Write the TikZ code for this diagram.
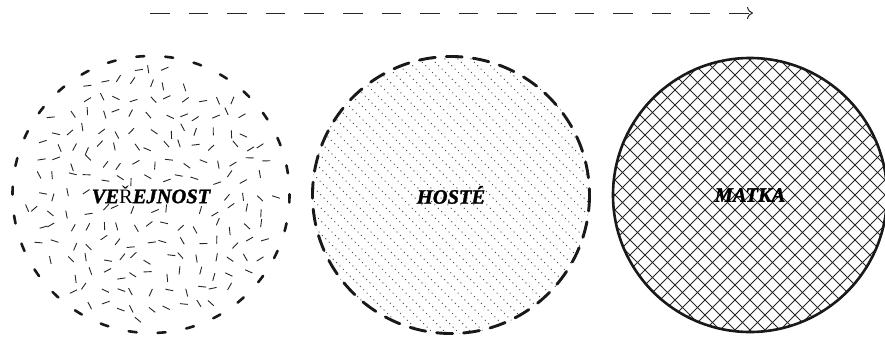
\documentclass[tikz,border=0pt]{standalone}
\usepackage{fontspec}
\setmainfont{Liberation Serif}
\newfontfamily\lblfont{Liberation Serif}[BoldItalicFeatures={FakeBold=1.5}]
\usetikzlibrary{arrows.meta}
\begin{document}
\begin{tikzpicture}[x=1pt,y=-1pt,
  ring/.style={circle,minimum size=278pt,inner sep=0pt,outer sep=0pt},
  lbl/.style={font=\lblfont\fontsize{20.5}{22}\selectfont\bfseries\itshape,text=black,inner sep=1pt},
  speck/.style={line width=0.9pt,black!85},
  hatch/.style={line width=1pt,dash pattern=on 1pt off 3.8pt,black!70},
  cross/.style={line width=0.9pt,black!85},
  flow/.style={line width=1pt,black!85,dash pattern=on 19.5pt off 19.1pt,-{To[length=6pt,width=12pt,line width=1pt]}}]
\useasboundingbox (0,0) rectangle (885,343);
% circles
\node[ring] (pub) at (151,194.5) {};
\node[ring] (hos) at (451,195) {};
\node[ring,minimum size=276pt] (mat) at (750,195) {};
% fills
\begin{scope}[shift={(pub.center)}]
  \pgfmathsetseed{7}
  \foreach \i in {-8,...,8}{
    \foreach \j in {-8,...,8}{
      \pgfmathsetmacro\px{\i*16+rand*5}
      \pgfmathsetmacro\py{\j*16+rand*5}
      \pgfmathsetmacro\ang{rnd*180}
      \pgfmathtruncatemacro\ok{(veclen(\px,\py)<127 && !(abs(\py)<12 && abs(\px)<64)) ? 1 : 0}
      \ifnum\ok=1
        \draw[speck] (\px,\py) ++(\ang:-4) -- ++(\ang:8);
      \fi
    }
  }
\end{scope}
\begin{scope}
  \clip (hos.center) circle (139);
  \begin{scope}[shift={(hos.center)}]
    \foreach \k in {-299,-286,...,299}
      \draw[hatch] (\k-150,-150) -- ++(300,300);
  \end{scope}
\end{scope}
\begin{scope}
  \clip (mat.center) circle (138);
  \begin{scope}[shift={(mat.center)}]
    \foreach \k in {-300,-285,...,300}{
      \draw[cross] (\k-150,-150) -- ++(300,300);
      \draw[cross] (\k-150,150) -- ++(300,-300);
    }
  \end{scope}
\end{scope}
% outlines
\draw[line width=2.6pt,black!90,dash pattern=on 8pt off 21pt,line cap=round] (pub.center) circle (138.5);
\draw[line width=2.9pt,black!90,dash pattern=on 16pt off 11pt,line cap=round] (hos.center) circle (138.5);
\draw[line width=2.6pt,black!90] (mat.center) circle (137);
% labels
\node[lbl] (tpub) at (pub.center) {VE{\normalfont\fontsize{20.5}{22}\selectfont Ř}EJNOST};
\node[lbl] (thos) at (hos.center) {HOSTÉ};
\node[lbl] (tmat) at (mat.center) {MATKA};
% arrow
\coordinate (a0) at (150,13);
\coordinate (a1) at (753,13);
\draw[flow] (a0) -- (a1);
\end{tikzpicture}
\end{document}
